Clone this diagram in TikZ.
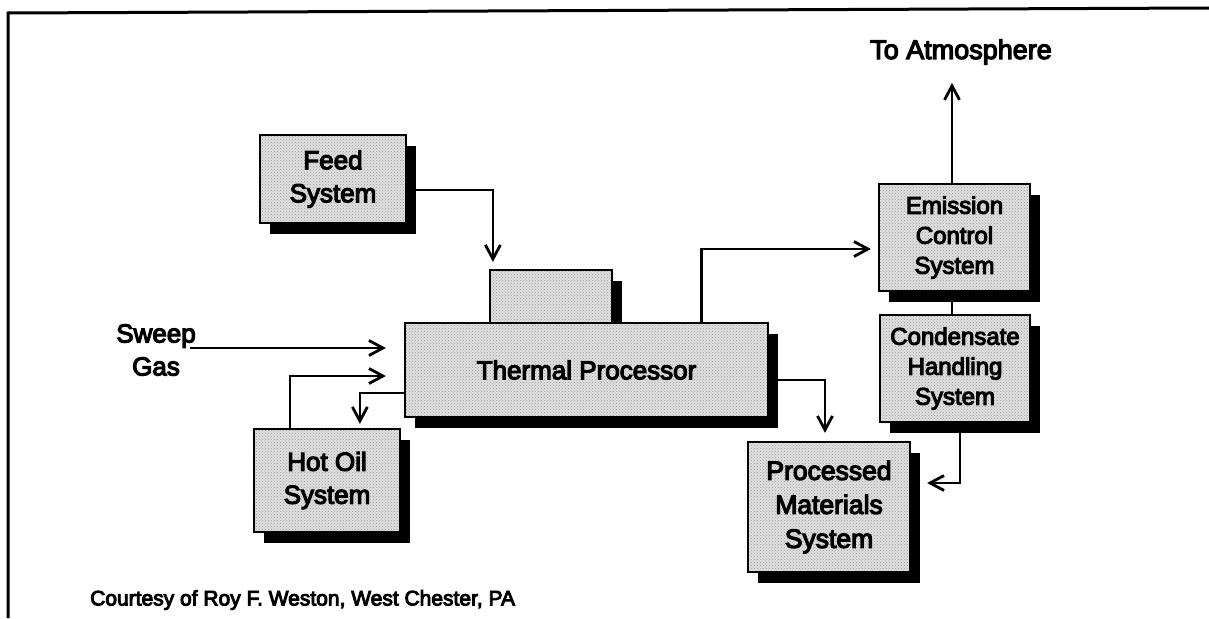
\documentclass[tikz,border=0pt]{standalone}
\usepackage{fontspec}
\newfontfamily\dfont{Liberation Sans}[FakeBold=4.5]
\usetikzlibrary{arrows.meta,shadows,patterns}
\begin{document}
\begin{tikzpicture}[x=1pt,y=-1pt,
  sysbox/.style={draw=black, line width=2.2pt, align=center, inner sep=0pt,
    drop shadow={shadow xshift=10pt, shadow yshift=-11pt, opacity=1, fill=black},
    preaction={fill=black!12},
    pattern=crosshatch dots, pattern color=black!40},
  bigtxt/.style={font=\dfont\fontsize{26}{33}\selectfont},
  midtxt/.style={font=\dfont\fontsize{24}{30}\selectfont},
  conn/.style={line width=2.8pt, -{Straight Barb[length=14pt,width=15pt]}},
  plain/.style={line width=2.8pt},
  label/.style={align=center, inner sep=0pt}]
\useasboundingbox (0,0) rectangle (1209,618);
% frame
\draw[line width=3pt] (8,618) -- (8,13) -- (1209,8);

% boxes
\node[sysbox, minimum width=146pt, minimum height=88pt, bigtxt] (feed) at (333,179) {Feed\\System};
\node[sysbox, minimum width=122pt, minimum height=53pt] (hopper) at (551,296.5) {};
\node[sysbox, minimum width=363pt, minimum height=94pt, bigtxt] (thermal) at (586.5,370) {Thermal Processor};
\node[sysbox, minimum width=146pt, minimum height=103pt, bigtxt] (hotoil) at (327,480.5) {Hot Oil\\System};
\node[sysbox, minimum width=151pt, minimum height=107pt, midtxt] (emission) at (954.5,237.5) {Emission\\Control\\System};
\node[sysbox, minimum width=150pt, minimum height=107pt, midtxt] (condensate) at (955,368.5) {Condensate\\Handling\\System};
\node[sysbox, minimum width=162pt, minimum height=130pt, font=\dfont\fontsize{26.5}{34}\selectfont] (processed) at (829,507) {Processed\\Materials\\System};

% labels
\node[label, bigtxt] (sweep) at (156,350) {Sweep\\Gas};
\node[label, font=\dfont\fontsize{27}{32}\selectfont] (atmo) at (961,52) {To Atmosphere};
\node[label, anchor=west, font=\dfont\fontsize{21}{25}\selectfont] (courtesy) at (90,600) {Courtesy of Roy F. Weston, West Chester, PA};

% connectors
\draw[conn] ([yshift=-11pt]feed.east) -| ([xshift=4pt,yshift=7pt]hopper.north west);
\coordinate (sweepstart) at (190,348);
\draw[conn] (sweepstart) -- ([xshift=-18pt]thermal.west |- sweepstart);
\draw[conn] ([xshift=37pt]hotoil.north west) |- ([xshift=-18pt,yshift=-6pt]thermal.west);
\draw[conn] ([yshift=-23pt]thermal.west) -| ([xshift=107pt,yshift=4pt]hotoil.north west);
\draw[conn] ([xshift=-68pt]thermal.north east) |- ([xshift=-7pt,yshift=-11.5pt]emission.west);
\draw[conn] ([xshift=-2.5pt]emission.north) -- ([xshift=-2.5pt,yshift=100pt]emission.north);
\draw[plain] ([xshift=-2.5pt,yshift=-10pt]emission.south) -- ([xshift=-3pt]condensate.north);
\draw[conn] ([xshift=5pt,yshift=-9pt]condensate.south) |- ([xshift=16pt,yshift=24pt]processed.east);
\draw[conn] ([xshift=9pt,yshift=-10pt]thermal.east) -| ([xshift=-4pt,yshift=8pt]processed.north);
\end{tikzpicture}
\end{document}
